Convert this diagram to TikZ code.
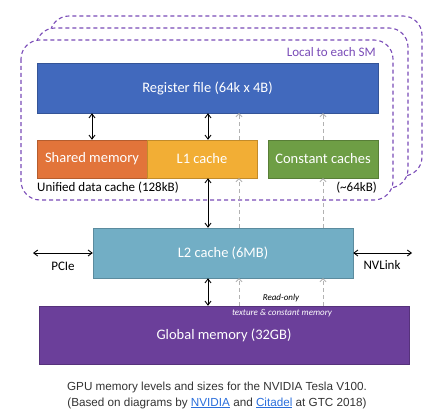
\documentclass[tikz,border=0pt]{standalone}
\usepackage{fontspec}
\setmainfont{Carlito}
\newfontfamily\capfont{Liberation Sans}
\usetikzlibrary{arrows.meta}

\definecolor{regblue}{HTML}{4169BD}
\definecolor{shorange}{HTML}{E2743A}
\definecolor{lonegold}{HTML}{F2AE35}
\definecolor{constgreen}{HTML}{6E9E45}
\definecolor{ltwoteal}{HTML}{72AEC5}
\definecolor{globpurple}{HTML}{6B3F9A}
\definecolor{smpurple}{HTML}{7A4CB8}
\definecolor{capgray}{HTML}{333333}
\definecolor{linkblue}{HTML}{2A6EDB}

\newcommand{\weblink}[1]{{\color{linkblue}\underline{#1}}}

\tikzset{
    membox/.style={draw=#1!80!black, fill=#1, text=white, minimum height=38pt,
        inner sep=0pt, font=\fontsize{14.5}{16}\selectfont},
    smframe/.style={draw=smpurple, dashed, dash pattern=on 4pt off 3pt,
        line width=1.1pt, rounded corners=19pt, fill=white},
    datalink/.style={<->, >={Straight Barb[length=4pt,width=6pt]}, line width=0.9pt},
    readonly/.style={->, >={Straight Barb[length=3pt,width=6pt]}, gray!60,
        dashed, dash pattern=on 4pt off 3pt, line width=0.9pt},
    sidelabel/.style={font=\fontsize{13}{15}\selectfont, inner sep=0pt},
    notelabel/.style={font=\itshape\fontsize{9}{10}\selectfont, inner sep=0pt}
}

\begin{document}
\begin{tikzpicture}[x=1pt, y=-1pt]

\useasboundingbox (0,0) rectangle (434,420);

% SM frames (stacked copies)
\draw[smframe] (50,16) rectangle (422,176);
\draw[smframe] (36,28) rectangle (408,188);
\draw[smframe] (21,40) rectangle (393,200);
\node[sidelabel, anchor=east, text=smpurple] (local) at (376,52) {Local to each SM};

% Memory blocks
\node[membox=regblue, minimum width=341pt, minimum height=50pt] (reg) at (207.5,88) {Register file (64k x 4B)};
\node[membox=shorange, minimum width=110pt] (shared) at (92,159) {Shared memory};
\node[membox=lonegold, minimum width=110pt] (lone) at (202,159) {L1 cache};
\node[membox=constgreen, minimum width=110pt] (const) at (323,159) {Constant caches};
\node[membox=ltwoteal, minimum width=260pt, minimum height=50pt] (ltwo) at (223,253) {L2 cache (6MB)};
\node[membox=globpurple, minimum width=370pt, minimum height=58pt] (global) at (224,335) {Global memory (32GB)};

% Size labels
\node[sidelabel, anchor=west] (unified) at (37,188) {Unified data cache (128kB)};
\node[sidelabel, anchor=east] (constsize) at (377,188) {(\textasciitilde 64kB)};

% Columns for the links
\coordinate (mainbus) at (208,0);
\coordinate (rocol) at (239,0);
\coordinate (constcol) at (323,0);

% Data paths
\draw[datalink] (shared.north) -- (shared.north |- reg.south);
\draw[datalink] (mainbus |- lone.north) -- (mainbus |- reg.south);
\draw[datalink] (mainbus |- lone.south) -- (mainbus |- ltwo.north);
\draw[datalink] (mainbus |- ltwo.south) -- (mainbus |- global.north);

% Off-chip links
\coordinate (pcieend) at (33,253);
\coordinate (nvlinkend) at (412,253);
\draw[datalink] (pcieend) -- (ltwo.west);
\draw[datalink] (ltwo.east) -- (nvlinkend);
\node[sidelabel] (pcie) at (63,266) {PCIe};
\node[sidelabel] (nvlink) at (382,265) {NVLink};

% Read-only paths
\foreach \col/\mid in {rocol/lone, constcol/const} {
    \draw[readonly] (\col |- \mid.north) -- (\col |- reg.south);
    \draw[readonly] (\col |- ltwo.north) -- (\col |- \mid.south);
    \draw[readonly] (\col |- global.north) -- (\col |- ltwo.south);
}
\node[notelabel] (ro) at (281,298) {Read-only};
\node[notelabel, text=white] (texmem) at (282,313) {texture \& constant memory};

% Caption
\node[font=\capfont\fontsize{11.7}{14}\selectfont, text=capgray] (capone) at (217,387) {GPU memory levels and sizes for the NVIDIA Tesla V100.};
\node[font=\capfont\fontsize{11.7}{14}\selectfont, text=capgray] (captwo) at (217,403) {(Based on diagrams by \weblink{NVIDIA} and \weblink{Citadel} at GTC 2018)};

\end{tikzpicture}
\end{document}
